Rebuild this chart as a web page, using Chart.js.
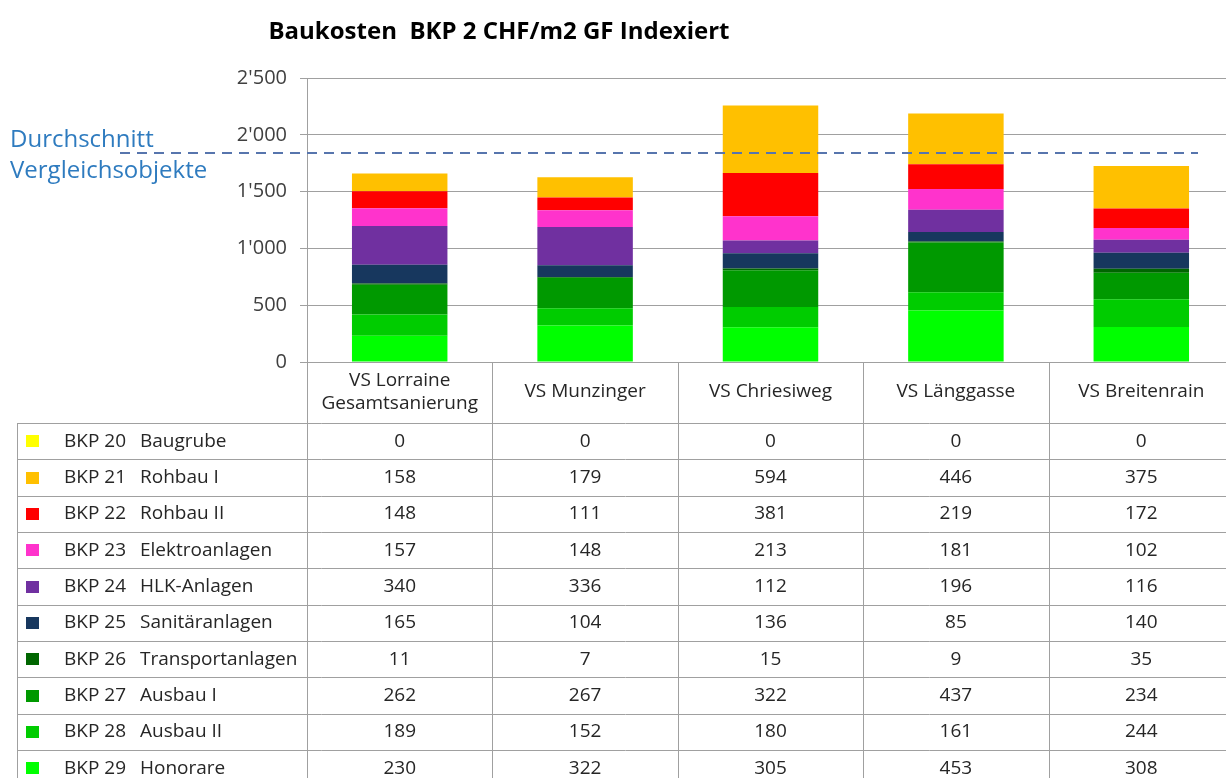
<!DOCTYPE html>
<html>
<head>
<meta charset="utf-8">
<script src="https://cdn.jsdelivr.net/npm/chart.js@4"></script>
<style>
  html, body { margin: 0; padding: 0; background: #fff; overflow: hidden; }
  #wrap { width: 1234px; height: 778px; }
</style>
</head>
<body>
<div id="wrap"><canvas id="baukosten" width="1234" height="778"></canvas></div>
<script>
// Kategorien (Spalten) und Kostengruppen (Zeilen)
const objekte = [['VS Lorraine', 'Gesamtsanierung'], 'VS Munzinger', 'VS Chriesiweg', 'VS Länggasse', 'VS Breitenrain'];
const bkpCodes = ['BKP 20', 'BKP 21', 'BKP 22', 'BKP 23', 'BKP 24', 'BKP 25', 'BKP 26', 'BKP 27', 'BKP 28', 'BKP 29'];
const bkpNamen = ['Baugrube', 'Rohbau I', 'Rohbau II', 'Elektroanlagen', 'HLK-Anlagen', 'Sanitäranlagen', 'Transportanlagen', 'Ausbau I', 'Ausbau II', 'Honorare'];

const bkp20 = [0, 0, 0, 0, 0];
const bkp21 = [158, 179, 594, 446, 375];
const bkp22 = [148, 111, 381, 219, 172];
const bkp23 = [157, 148, 213, 181, 102];
const bkp24 = [340, 336, 112, 196, 116];
const bkp25 = [165, 104, 136, 85, 140];
const bkp26 = [11, 7, 15, 9, 35];
const bkp27 = [262, 267, 322, 437, 234];
const bkp28 = [189, 152, 180, 161, 244];
const bkp29 = [230, 322, 305, 453, 308];

const durchschnitt = 1840;
const yTicks = [0, 500, 1000, 1500, 2000, 2500];

const farben = ['#ffff00', '#ffc000', '#ff0000', '#ff33cc', '#7030a0', '#17375e', '#006600', '#009900', '#00cc00', '#00ff00'];
const reihen = [bkp20, bkp21, bkp22, bkp23, bkp24, bkp25, bkp26, bkp27, bkp28, bkp29];

const FONT = '"Open Sans", sans-serif';
const TEXT = '#262626';
const LINE = '#a0a0a0';

function tausender(v) {
  if (v < 1000) return String(v);
  return Math.floor(v / 1000) + "'" + String(v % 1000).padStart(3, '0');
}

// BKP 29 unten, BKP 20 oben
const datasets = reihen.map((werte, i) => ({
  label: bkpCodes[i] + ' ' + bkpNamen[i],
  data: werte,
  backgroundColor: farben[i],
  borderWidth: 0,
  categoryPercentage: 1,
  barPercentage: 0.515,
  stack: 'bkp'
})).reverse();

const durchschnittPlugin = {
  id: 'durchschnitt',
  afterDatasetsDraw(chart) {
    const ctx = chart.ctx;
    const yPix = chart.scales.y.getPixelForValue(durchschnitt);
    ctx.save();
    ctx.strokeStyle = '#5775ad';
    ctx.lineWidth = 2;
    ctx.setLineDash([10, 7]);
    ctx.beginPath();
    ctx.moveTo(120, yPix);
    ctx.lineTo(1198, yPix);
    ctx.stroke();
    ctx.setLineDash([]);
    ctx.fillStyle = '#2e7bbf';
    ctx.font = '24px ' + FONT;
    ctx.textAlign = 'left';
    ctx.textBaseline = 'middle';
    ctx.fillText('Durchschnitt', 10, 140);
    ctx.fillText('Vergleichsobjekte', 10, 171);
    ctx.restore();
  }
};

const tabellePlugin = {
  id: 'tabelle',
  afterDraw(chart) {
    const ctx = chart.ctx;
    const xs = chart.scales.x;
    const area = chart.chartArea;
    const breite = (area.right - area.left) / objekte.length;
    const kopfOben = area.bottom;
    const kopfUnten = 423;
    const zeile = 36.35;
    const unten = chart.height;
    ctx.save();

    // Titel
    ctx.fillStyle = '#000';
    ctx.font = 'bold 24px ' + FONT;
    ctx.textAlign = 'center';
    ctx.textBaseline = 'middle';
    ctx.fillText('Baukosten  BKP 2 CHF/m2 GF Indexiert', 499, 32);

    // Linien
    ctx.strokeStyle = LINE;
    ctx.lineWidth = 1;
    ctx.beginPath();
    for (let c = 0; c <= objekte.length; c++) {
      const xl = Math.round(area.left + c * breite) + 0.5;
      ctx.moveTo(xl, kopfOben);
      ctx.lineTo(xl, unten);
    }
    ctx.moveTo(17.5, kopfUnten);
    ctx.lineTo(17.5, unten);
    for (let r = 0; r <= bkpCodes.length; r++) {
      const yl = Math.round(kopfUnten + r * zeile) + 0.5;
      ctx.moveTo(17, yl);
      ctx.lineTo(chart.width, yl);
    }
    ctx.stroke();

    // Kopfzeile
    ctx.fillStyle = TEXT;
    ctx.font = '19px ' + FONT;
    ctx.textAlign = 'center';
    ctx.textBaseline = 'middle';
    objekte.forEach((name, c) => {
      const xc = xs.getPixelForValue(c);
      if (Array.isArray(name)) {
        ctx.fillText(name[0], xc, 381);
        ctx.fillText(name[1], xc, 404);
      } else {
        ctx.fillText(name, xc, 392);
      }
    });

    // Zeilen
    bkpCodes.forEach((code, r) => {
      const yc = kopfUnten + r * zeile + zeile / 2;
      ctx.fillStyle = farben[r];
      ctx.fillRect(26, Math.round(yc - 6), 13, 12);
      ctx.fillStyle = TEXT;
      ctx.textAlign = 'left';
      ctx.fillText(code, 64, yc);
      ctx.fillText(bkpNamen[r], 140, yc);
      ctx.textAlign = 'center';
      reihen[r].forEach((v, c) => {
        ctx.fillText(String(v), xs.getPixelForValue(c), yc);
      });
    });
    ctx.restore();
  }
};

new Chart(document.getElementById('baukosten'), {
  type: 'bar',
  data: {
    labels: objekte.map(o => Array.isArray(o) ? o.join(' ') : o),
    datasets: datasets
  },
  options: {
    responsive: false,
    animation: false,
    devicePixelRatio: 1,
    layout: { padding: { left: 0, right: 0, top: 78, bottom: 416 } },
    plugins: {
      legend: { display: false },
      tooltip: { enabled: false },
      title: { display: false }
    },
    scales: {
      x: {
        stacked: true,
        display: false
      },
      y: {
        stacked: true,
        min: 0,
        max: 2500,
        afterFit(scale) { scale.width = 307; },
        afterBuildTicks(scale) { scale.ticks = yTicks.map(v => ({ value: v })); },
        ticks: {
          color: '#404040',
          font: { family: FONT, size: 20 },
          padding: 13,
          callback: v => tausender(v)
        },
        grid: {
          color: LINE,
          tickLength: 7,
          drawTicks: true
        },
        border: { display: true, color: LINE }
      }
    }
  },
  plugins: [durchschnittPlugin, tabellePlugin]
});
</script>
</body>
</html>
